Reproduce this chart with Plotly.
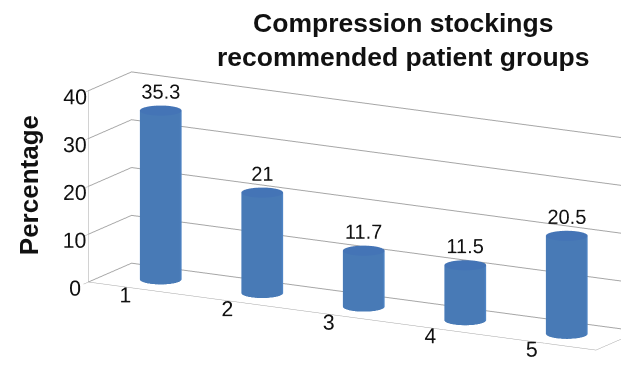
import numpy as np
import plotly.graph_objects as go

categories = [1, 2, 3, 4, 5]
values = [35.3, 21, 11.7, 11.5, 20.5]
labels = ["35.3", "21", "11.7", "11.5", "20.5"]
z_ticks = [0, 10, 20, 30, 40]

FONT = "Liberation Sans, Arial, sans-serif"
BAR = "#5590d6"
CAP = "#4474b6"

ax_x, ax_y, ax_z = 3.65, 0.56, 1.24
xr = [0.5, 5.5]
yr = [0, 1]
zr = [0, 40]
r = 0.18
ry = r * (ax_x / (xr[1] - xr[0])) / (ax_y / (yr[1] - yr[0]))

phi = np.radians(29)
elev = np.radians(14)
dist = 2.05
shift = -0.335  # move view so the box sits right of centre
off = np.array([shift * np.cos(phi), shift * np.sin(phi), 0.0])
eye = np.array([dist * np.sin(phi) * np.cos(elev),
                -dist * np.cos(phi) * np.cos(elev),
                dist * np.sin(elev)]) + off

fig = go.Figure()
theta = np.linspace(0, 2 * np.pi, 72)
for c, v in zip(categories, values):
    X = np.vstack([c + r * np.cos(theta)] * 2)
    Y = np.vstack([0.5 + ry * np.sin(theta)] * 2)
    Z = np.vstack([np.zeros_like(theta), np.full_like(theta, v)])
    fig.add_trace(go.Surface(x=X, y=Y, z=Z, surfacecolor=np.zeros_like(Z),
                             colorscale=[[0, BAR], [1, CAP]], cmin=0, cmax=1,
                             showscale=False, hoverinfo="skip",
                             lighting=dict(ambient=0.85, diffuse=0.3, specular=0.02, roughness=0.9, fresnel=0.0),
                             lightposition=dict(x=100000, y=-100000, z=20000)))
    rad = np.array([0, 1])[:, None]
    Xc = c + rad * r * np.cos(theta)
    Yc = 0.5 + rad * ry * np.sin(theta)
    Zc = np.full_like(Xc, v)
    fig.add_trace(go.Surface(x=Xc, y=Yc, z=Zc, surfacecolor=np.ones_like(Zc),
                             colorscale=[[0, BAR], [1, CAP]], cmin=0, cmax=1,
                             showscale=False, hoverinfo="skip",
                             lighting=dict(ambient=1.0, diffuse=0.0, specular=0.0)))

fig.add_trace(go.Scatter3d(x=categories, y=[0.5] * 5, z=[v + 4.0 for v in values],
                           mode="text", text=labels, textposition="middle center",
                           textfont=dict(family=FONT, size=20, color="#111"),
                           hoverinfo="skip", showlegend=False))

axis_common = dict(showbackground=False, gridcolor="#a6a6a6", linecolor="#a6a6a6",
                   showspikes=False, title=dict(text=""), zeroline=False)
fig.update_layout(
    width=621, height=370,
    margin=dict(l=0, r=0, t=0, b=0),
    paper_bgcolor="white",
    showlegend=False,
    scene=dict(
        domain=dict(x=[0.0, 1.0], y=[0.0, 0.86]),
        xaxis=dict(axis_common, range=xr, tickvals=categories, ticktext=[str(c) for c in categories],
                   showgrid=False, showline=True, ticks="outside", ticklen=28, tickcolor="white",
                   tickangle=0, tickfont=dict(family=FONT, size=16, color="#111")),
        yaxis=dict(axis_common, range=yr, showgrid=False, showticklabels=False, showline=True, ticks=""),
        zaxis=dict(axis_common, range=zr, tickvals=z_ticks, showgrid=True, showline=True,
                   ticks="outside", ticklen=6, tickcolor="#a6a6a6", tickangle=0,
                   tickfont=dict(family=FONT, size=16, color="#111")),
        aspectmode="manual",
        aspectratio=dict(x=ax_x, y=ax_y, z=ax_z),
        camera=dict(eye=dict(x=eye[0], y=eye[1], z=eye[2]),
                    center=dict(x=off[0], y=off[1], z=0),
                    projection=dict(type="orthographic")),
    ),
    annotations=[
        dict(text="<b>Compression stockings<br>recommended patient groups</b>",
             x=0.65, y=0.985, xref="paper", yref="paper", xanchor="center", yanchor="top",
             showarrow=False, font=dict(family=FONT, size=26.5, color="#111")),
        dict(text="<b>Percentage</b>", x=0.047, y=0.50, xref="paper", yref="paper",
             xanchor="center", yanchor="middle",
             textangle=-90, showarrow=False, font=dict(family=FONT, size=26, color="#111")),
    ],
)
fig.write_html("out.html")
